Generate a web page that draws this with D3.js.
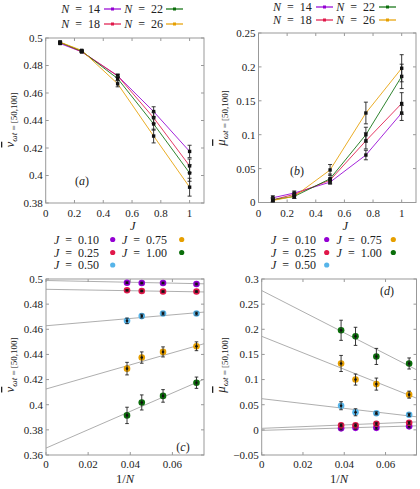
<!DOCTYPE html>
<html><head><meta charset="utf-8">
<script src="https://cdn.jsdelivr.net/npm/d3@7"></script>
<style>
html,body{margin:0;padding:0;background:#fff;}
svg text{font-family:"Liberation Serif","DejaVu Serif",serif;fill:#222;}
</style></head>
<body><svg id="c" width="420" height="489"></svg>
<script>
// ---------------- data ----------------
const Jvals = [0.10, 0.25, 0.50, 0.75, 1.00];
const Nvals = [14, 18, 22, 26];
const invN = [1/14, 1/18, 1/22, 1/26];

const nu14 = [0.4960, 0.4900, 0.4725, 0.4465, 0.4175];
const nu18 = [0.4968, 0.4900, 0.4725, 0.4420, 0.4070];
const nu22 = [0.4968, 0.4905, 0.4705, 0.4375, 0.4018];
const nu26 = [0.4970, 0.4910, 0.4667, 0.4287, 0.3915];
const nuErr14 = [0.0007, 0.0006, 0.0012, 0.0035, 0.0045];
const nuErr18 = [0.0007, 0.0006, 0.0012, 0.0040, 0.0050];
const nuErr22 = [0.0007, 0.0006, 0.0015, 0.0045, 0.0060];
const nuErr26 = [0.0007, 0.0006, 0.0022, 0.0050, 0.0065];

const mu14 = [0.007, 0.014, 0.030, 0.070, 0.132];
const mu18 = [0.004, 0.012, 0.033, 0.091, 0.146];
const mu22 = [0.004, 0.009, 0.035, 0.100, 0.186];
const mu26 = [0.003, 0.009, 0.048, 0.132, 0.198];
const muErr14 = [0.003, 0.003, 0.003, 0.007, 0.011];
const muErr18 = [0.003, 0.003, 0.003, 0.012, 0.016];
const muErr22 = [0.003, 0.003, 0.007, 0.011, 0.018];
const muErr26 = [0.003, 0.003, 0.008, 0.016, 0.020];

// linear fits in 1/N, one per J
const nuFitIntercept = [0.4988, 0.4918, 0.4628, 0.4125, 0.3655];
const nuFitSlope     = [-0.035, -0.028, 0.145, 0.48, 0.73];
const muFitIntercept = [-0.001, 0.003, 0.062, 0.186, 0.277];
const muFitSlope     = [0.12, 0.17, -0.48, -1.64, -2.1];

const ticksJ   = [0, 0.2, 0.4, 0.6, 0.8, 1];
const ticksInvN= [0, 0.02, 0.04, 0.06];
const ticksNuA = [0.38, 0.40, 0.42, 0.44, 0.46, 0.48, 0.50];
const ticksMuB = [0, 0.05, 0.10, 0.15, 0.20, 0.25];
const ticksNuC = [0.36, 0.38, 0.40, 0.42, 0.44, 0.46, 0.48, 0.50];
const ticksMuD = [-0.05, 0, 0.05, 0.10, 0.15, 0.20, 0.25, 0.30];

const Ncolors = ["#9400d3", "#e0184a", "#0a6e0a", "#e69f00"];
const Jcolors = ["#9400d3", "#e0184a", "#56b4e9", "#e69f00", "#0a6e0a"];
const Jlabels = ["0.10", "0.25", "0.50", "0.75", "1.00"];

const nuByN = [nu14, nu18, nu22, nu26];
const nuErrByN = [nuErr14, nuErr18, nuErr22, nuErr26];
const muByN = [mu14, mu18, mu22, mu26];
const muErrByN = [muErr14, muErr18, muErr22, muErr26];

// ---------------- drawing ----------------
const svg = d3.select("#c");
const fmt = v => { if (Math.abs(v) < 1e-12) return "0"; return d3.format("~g")(+v.toFixed(4)); };
let clipId = 0;

function frame(g, x, y, xt, yt, xlabOff) {
  const [x0, x1] = x.range(), [y0, y1] = y.range();
  const tl = 3;
  const ax = g.append("g");
  ax.append("rect").attr("x", x0).attr("y", y1).attr("width", x1 - x0).attr("height", y0 - y1)
    .attr("fill", "none").attr("stroke", "#999").attr("stroke-width", 1);
  xt.forEach(t => {
    const px = x(t);
    ax.append("line").attr("x1", px).attr("x2", px).attr("y1", y0).attr("y2", y0 - tl).attr("stroke", "#999");
    ax.append("line").attr("x1", px).attr("x2", px).attr("y1", y1).attr("y2", y1 + tl).attr("stroke", "#999");
    ax.append("text").attr("x", px).attr("y", y0 + xlabOff).attr("text-anchor", "middle")
      .attr("font-size", 11).text(fmt(t));
  });
  yt.forEach(t => {
    const py = y(t);
    ax.append("line").attr("x1", x0).attr("x2", x0 + tl).attr("y1", py).attr("y2", py).attr("stroke", "#999");
    ax.append("line").attr("x1", x1).attr("x2", x1 - tl).attr("y1", py).attr("y2", py).attr("stroke", "#999");
    ax.append("text").attr("x", x0 - 3).attr("y", py + 3.9).attr("text-anchor", "end")
      .attr("font-size", 11).text(fmt(t));
  });
  const id = "clip" + (clipId++);
  g.append("clipPath").attr("id", id).append("rect")
    .attr("x", x0).attr("y", y1).attr("width", x1 - x0).attr("height", y0 - y1);
  return id;
}

function ylabel(g, cx, cy, sym) {
  const t = g.append("text").attr("transform", `translate(${cx},${cy}) rotate(-90)`)
    .attr("text-anchor", "middle");
  t.append("tspan").attr("font-size", 13).attr("font-style", "italic")
    .attr("text-decoration", "overline").text(sym);
  t.append("tspan").attr("font-size", 9).attr("dy", 3)
    .html('<tspan font-style="italic">ωt</tspan> = [50,100]');
}

function xlabel(g, cx, cy, parts) {
  const t = g.append("text").attr("x", cx).attr("y", cy).attr("text-anchor", "middle").attr("font-size", 12.5);
  parts.forEach(p => t.append("tspan").attr("font-style", p[1] ? "italic" : "normal").text(p[0]));
}

function eqText(g, x, y, name, val, anchor) {
  const t = g.append("text").attr("x", x).attr("y", y).attr("text-anchor", anchor || "end")
    .attr("font-size", 12).attr("xml:space", "preserve");
  t.append("tspan").attr("font-style", "italic").text(name);
  t.append("tspan").text("\u2002=\u2002" + val);
}

function panelVsJ(opt) {
  const g = svg.append("g");
  const x = d3.scaleLinear().domain([0, 1.1]).range(opt.xr);
  const y = d3.scaleLinear().domain(opt.yd).range(opt.yr);
  const cid = frame(g, x, y, ticksJ, opt.yticks, 14);
  const plot = g.append("g").attr("clip-path", `url(#${cid})`);
  const line = d3.line().x((d, i) => x(Jvals[i])).y(d => y(d));
  opt.vals.forEach((arr, k) => {
    plot.append("path").attr("d", line(arr)).attr("fill", "none")
      .attr("stroke", Ncolors[k]).attr("stroke-width", 1).attr("stroke-opacity", 0.85);
  });
  opt.vals.forEach((arr, k) => {
    arr.forEach((v, i) => {
      const px = x(Jvals[i]), e = opt.errs[k][i];
      plot.append("line").attr("x1", px).attr("x2", px).attr("y1", y(v - e)).attr("y2", y(v + e))
        .attr("stroke", "#222").attr("stroke-width", 0.9);
      [v - e, v + e].forEach(w => plot.append("line").attr("x1", px - 2).attr("x2", px + 2)
        .attr("y1", y(w)).attr("y2", y(w)).attr("stroke", "#222").attr("stroke-width", 0.9));
      plot.append("rect").attr("x", px - 1.7).attr("y", y(v) - 1.7).attr("width", 3.4).attr("height", 3.4)
        .attr("fill", "#111");
    });
  });
  // legend
  const lg = g.append("g");
  Nvals.forEach((n, k) => {
    const col = Math.floor(k / 2), row = k % 2;
    const tx = opt.leg.tx[col], ly = opt.leg.ty[row];
    eqText(lg, tx, ly + 4, "N", n);
    const l0 = opt.leg.lx[col];
    lg.append("line").attr("x1", l0).attr("x2", l0 + 17).attr("y1", ly).attr("y2", ly)
      .attr("stroke", Ncolors[k]).attr("stroke-width", 1.2);
    lg.append("rect").attr("x", l0 + 8.5 - 1.5).attr("y", ly - 1.5).attr("width", 3).attr("height", 3)
      .attr("fill", Ncolors[k]);
  });
  xlabel(g, (opt.xr[0] + opt.xr[1]) / 2 + 8, opt.yr[0] + 27, [["J", true]]);
  ylabel(g, opt.ylx, opt.yly, opt.sym);
  g.append("text").attr("x", opt.pl[0]).attr("y", opt.pl[1]).attr("text-anchor", "middle")
    .attr("font-size", 12).html('(<tspan font-style="italic">' + opt.plab + '</tspan>)');
}

function panelVsInvN(opt) {
  const g = svg.append("g");
  const x = d3.scaleLinear().domain([0, 0.075]).range(opt.xr);
  const y = d3.scaleLinear().domain(opt.yd).range(opt.yr);
  const cid = frame(g, x, y, ticksInvN, opt.yticks, 12.5);
  const plot = g.append("g").attr("clip-path", `url(#${cid})`);
  Jvals.forEach((j, i) => {
    const a = opt.fa[i], b = opt.fb[i];
    plot.append("line").attr("x1", x(0)).attr("y1", y(a)).attr("x2", x(0.075)).attr("y2", y(a + b * 0.075))
      .attr("stroke", "#999").attr("stroke-width", 0.8);
  });
  Jvals.forEach((j, i) => {
    Nvals.forEach((n, k) => {
      const v = opt.vals[k][i], e = opt.errs[k][i];
      const px = x(invN[k]);
      plot.append("circle").attr("cx", px).attr("cy", y(v)).attr("r", 3.3).attr("fill", Jcolors[i]);
      plot.append("line").attr("x1", px).attr("x2", px).attr("y1", y(v - e)).attr("y2", y(v + e))
        .attr("stroke", "#222").attr("stroke-width", 0.9);
      [v - e, v + e].forEach(w => plot.append("line").attr("x1", px - 1.8).attr("x2", px + 1.8)
        .attr("y1", y(w)).attr("y2", y(w)).attr("stroke", "#222").attr("stroke-width", 0.9));
      plot.append("circle").attr("cx", px).attr("cy", y(v)).attr("r", 1.3).attr("fill", "#111");
    });
  });
  const lg = g.append("g");
  const order = [[0, 0, 0], [3, 1, 0], [1, 0, 1], [4, 1, 1], [2, 0, 2]];
  order.forEach(([i, col, row]) => {
    const ly = opt.leg.ty[row];
    eqText(lg, opt.leg.tx[col], ly + 4, "J", Jlabels[i]);
    lg.append("circle").attr("cx", opt.leg.cx[col]).attr("cy", ly).attr("r", 2.6).attr("fill", Jcolors[i]);
  });
  xlabel(g, (opt.xr[0] + opt.xr[1]) / 2, opt.yr[0] + 27.5, [["1/", false], ["N", true]]);
  ylabel(g, opt.ylx, opt.yly, opt.sym);
  g.append("text").attr("x", opt.pl[0]).attr("y", opt.pl[1]).attr("text-anchor", "middle")
    .attr("font-size", 12).html('(<tspan font-style="italic">' + opt.plab + '</tspan>)');
}

panelVsJ({xr: [45.7, 204], yd: [0.38, 0.5], yr: [203, 38], yticks: ticksNuA,
  vals: nuByN, errs: nuErrByN, sym: "ν", ylx: 14, yly: 120, plab: "a", pl: [82, 185],
  leg: {tx: [100, 163], lx: [104, 166], ty: [9, 24]}});
panelVsJ({xr: [258.5, 416], yd: [0, 0.25], yr: [202.5, 33], yticks: ticksMuB,
  vals: muByN, errs: muErrByN, sym: "μ", ylx: 225, yly: 118, plab: "b", pl: [297, 175],
  leg: {tx: [311.7, 375], lx: [316, 379], ty: [7, 20]}});
panelVsInvN({xr: [46, 204], yd: [0.36, 0.5], yr: [455, 279], yticks: ticksNuC,
  vals: nuByN, errs: nuErrByN, fa: nuFitIntercept, fb: nuFitSlope, sym: "ν", ylx: 14, yly: 365,
  plab: "c", pl: [183, 451], leg: {tx: [99, 167], cx: [112.7, 181.7], ty: [239.5, 252.5, 265]}});
panelVsInvN({xr: [261.7, 416.5], yd: [-0.05, 0.3], yr: [455, 279], yticks: ticksMuD,
  vals: muByN, errs: muErrByN, fa: muFitIntercept, fb: muFitSlope, sym: "μ", ylx: 225, yly: 365,
  plab: "d", pl: [387, 295], leg: {tx: [316, 381.7], cx: [326.7, 393.3], ty: [239.5, 252.5, 265]}});
</script></body></html>
